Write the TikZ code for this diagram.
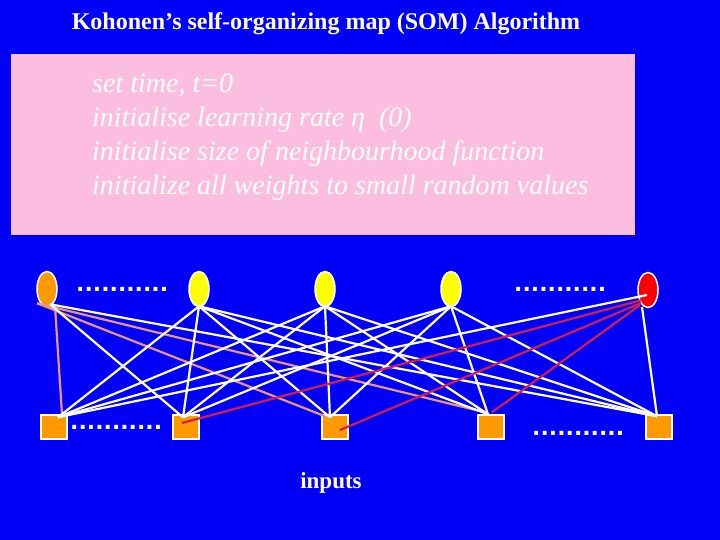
\documentclass[tikz,border=0pt]{standalone}
\usepackage{fontspec}
\setmainfont{Liberation Serif}
\newfontfamily\dotfont{DejaVu Sans}
\usetikzlibrary{shapes.geometric}
\definecolor{bgblue}{RGB}{0,0,248}
\definecolor{pinkbox}{RGB}{252,190,224}
\definecolor{nodeorange}{RGB}{255,153,0}
\definecolor{nodeyellow}{RGB}{255,255,0}
\definecolor{nodered}{RGB}{250,0,0}
\definecolor{lineorange}{RGB}{235,150,120}
\definecolor{linered}{RGB}{210,30,75}
\tikzset{
  neuron/.style={ellipse,draw=white,line width=1.5pt,minimum width=20pt,minimum height=35pt,inner sep=0pt},
  inbox/.style={rectangle,draw=white,line width=1.5pt,fill=nodeorange,minimum width=26pt,minimum height=24pt,inner sep=0pt},
  wline/.style={draw=white,line width=2.2pt},
  oline/.style={draw=lineorange,line width=2.2pt},
  rline/.style={draw=linered,line width=2.2pt},
  dotrow/.style={text=white,font=\dotfont\fontsize{22}{22}\selectfont\bfseries,inner sep=0pt,anchor=base west},
}
\begin{document}
\begin{tikzpicture}[x=1pt,y=-1pt]
\useasboundingbox (0,0) rectangle (720,540);
\fill[bgblue] (0,0) rectangle (720,540);
\fill[pinkbox] (11,54) rectangle (635,235);
\node[text=white,font=\fontsize{24}{28}\selectfont\bfseries] (title) at (326,24) {Kohonen’s self-organizing map (SOM) Algorithm};
\node[text=white,font=\fontsize{28}{34}\selectfont\itshape,align=left,anchor=north west,inner sep=0pt] (init) at (92,74)
 {set time, t=0\\initialise learning rate η~~(0)\\initialise size of neighbourhood function\\initialize all weights to small random values};
% neurons
\node[neuron,fill=nodeorange] (n1) at (47,289) {};
\node[neuron,fill=nodeyellow] (n2) at (199,289) {};
\node[neuron,fill=nodeyellow] (n3) at (325,289) {};
\node[neuron,fill=nodeyellow] (n4) at (451,289) {};
\node[neuron,fill=nodered] (n5) at (648,290) {};
% inputs
\node[inbox] (s1) at (54,427) {};
\node[inbox] (s2) at (186,427) {};
\node[inbox] (s3) at (335,427) {};
\node[inbox] (s4) at (491,427) {};
\node[inbox] (s5) at (659,427) {};
% end points on inputs
\coordinate (e1) at ([xshift=4pt,yshift=-3pt]s1.north);
\coordinate (e2) at ([xshift=-3pt,yshift=-3pt]s2.north);
\coordinate (e3) at ([xshift=-5pt,yshift=-3pt]s3.north);
\coordinate (e4) at ([xshift=-3pt]s4.north);
\coordinate (e5) at ([xshift=-2pt,yshift=-2pt]s5.north);
% orange neuron
\draw[oline] ([xshift=8pt,yshift=1pt]n1.south) -- ([xshift=8pt]s1.north);
\draw[oline] ([xshift=-10pt,yshift=4pt]n1.south) -- ([xshift=-10pt,yshift=-2pt]s3.north);
\draw[oline] ([xshift=-10pt,yshift=4pt]n1.south) -- ([xshift=-6pt,yshift=2pt]s4.north);
\draw[wline] ([xshift=3pt,yshift=3pt]n1.south) -- (e2);
\draw[wline] ([xshift=3pt,yshift=3pt]n1.south) -- (e5);
% yellow neurons
\foreach \n in {n2,n3,n4}{
  \foreach \e in {e1,e2,e3,e4,e5}{
    \draw[wline] ([yshift=1pt]\n.south) -- (\e);
  }
}
% red neuron
\draw[wline] ([xshift=-1pt,yshift=-5pt]n5.center) -- (e1);
\draw[wline] ([xshift=-6pt,yshift=-17pt]n5.center) -- (e5);
\draw[rline] ([xshift=-6pt,yshift=-10pt]n5.center) -- ([xshift=-4pt,yshift=4pt]s2.center);
\draw[rline] ([xshift=-7pt,yshift=-13pt]n5.center) -- ([xshift=5pt,yshift=-3pt]s3.center);
\draw[rline] ([xshift=-8pt,yshift=-15pt]n5.center) -- ([xshift=1pt,yshift=2pt]s4.north);
% dots
\node[dotrow] (d1) at (76,291) {...........};
\node[dotrow] (d2) at (514,291) {...........};
\node[dotrow] (d3) at (70,429) {...........};
\node[dotrow] (d4) at (532,435) {...........};
\node[text=white,font=\fontsize{23}{28}\selectfont\bfseries] (inputs) at (331,483) {inputs};
\end{tikzpicture}
\end{document}
